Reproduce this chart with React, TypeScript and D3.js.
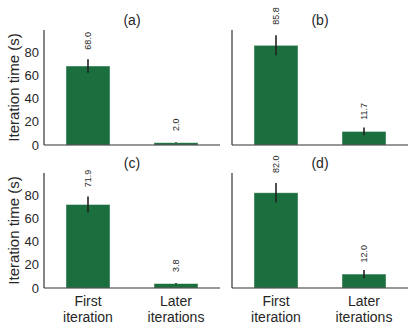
import React from "react";
import * as d3 from "d3";

// panel data
const panels = ["(a)", "(b)", "(c)", "(d)"];
const categories = [
  ["First", "iteration"],
  ["Later", "iterations"],
];
const meanA = [68.0, 2.0];
const meanB = [85.8, 11.7];
const meanC = [71.9, 3.8];
const meanD = [82.0, 12.0];
const errA = [5.9, 0.3];
const errB = [8.6, 3.4];
const errC = [6.9, 0.5];
const errD = [8.3, 3.5];
const yTicks = [0, 20, 40, 60, 80];

const means = [meanA, meanB, meanC, meanD];
const errs = [errA, errB, errC, errD];

const width = 415;
const height = 331;
const colLeft = [44, 232];
const rowTop = [30, 173];
const plotW = 176;
const plotH = 115;
const barColor = "#1b6e3d";
const font = "'Liberation Sans', Arial, sans-serif";

const Panel = ({ idx }: { idx: number }) => {
  const col = idx % 2;
  const row = Math.floor(idx / 2);
  const left = colLeft[col];
  const top = rowTop[row];

  const x = d3.scaleLinear().domain([-0.5, 1.5]).range([left, left + plotW]);
  const y = d3.scaleLinear().domain([0, 99]).range([top + plotH, top]);
  const bw = x(0.25) - x(0);

  const vals = means[idx];
  const er = errs[idx];

  return (
    <g>
      {vals.map((v, i) => (
        <g key={i}>
          <rect
            x={x(i) - bw}
            y={y(v)}
            width={bw * 2}
            height={y(0) - y(v)}
            fill={barColor}
            stroke="#ffffff"
            strokeOpacity={0.55}
            strokeWidth={0.8}
          />
          <text
            transform={`translate(${x(i) + 3},${y(Math.max(v + 10, v * 1.2 + 0.5))}) rotate(-90)`}
            fontSize={9}
            fill="#262626"
            textAnchor="start"
          >
            {v.toFixed(1)}
          </text>
          <line
            x1={x(i)}
            x2={x(i)}
            y1={y(v - er[i])}
            y2={y(v + er[i])}
            stroke="#222"
            strokeWidth={1.6}
          />
        </g>
      ))}

      {/* spines */}
      <line x1={left} x2={left} y1={top} y2={top + plotH} stroke="#333" strokeWidth={1.2} />
      <line x1={left} x2={left + plotW} y1={top + plotH} y2={top + plotH} stroke="#333" strokeWidth={1.2} />

      {col === 0 &&
        yTicks.map((t) => (
          <text
            key={t}
            x={left - 5}
            y={y(t)}
            dy="0.35em"
            textAnchor="end"
            fontSize={13}
            fill="#262626"
          >
            {t}
          </text>
        ))}

      {col === 0 && (
        <text
          transform={`translate(${left - 25},${top + plotH / 2}) rotate(-90)`}
          textAnchor="middle"
          fontSize={15}
          fill="#262626"
        >
          Iteration time (s)
        </text>
      )}

      {row === 1 &&
        categories.map((lines, i) =>
          lines.map((line, j) => (
            <text
              key={`${i}-${j}`}
              x={x(i)}
              y={top + plotH + 18 + j * 16}
              textAnchor="middle"
              fontSize={14}
              fill="#262626"
            >
              {line}
            </text>
          ))
        )}

      <text x={left + plotW / 2} y={top - 5} textAnchor="middle" fontSize={14} fill="#262626">
        {panels[idx]}
      </text>
    </g>
  );
};

const App = () => {
  return (
    <div style={{ position: "absolute", left: 0, top: 0 }}>
      <svg width={width} height={height} style={{ display: "block", fontFamily: font, background: "#fff" }}>
        {panels.map((p, i) => (
          <Panel key={p} idx={i} />
        ))}
      </svg>
    </div>
  );
};

export default App;
